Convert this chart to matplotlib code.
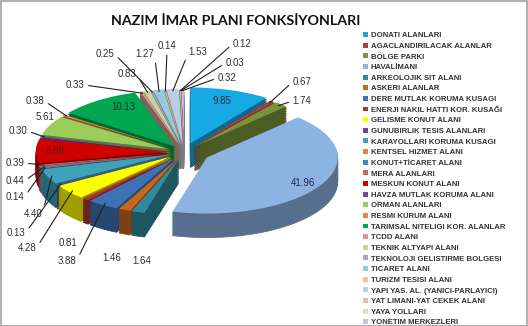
import numpy as np
import matplotlib
matplotlib.use('Agg')
import matplotlib.pyplot as plt
from matplotlib.colors import to_rgb
from matplotlib.patches import Rectangle

# Nazim imar plani fonksiyon alanlari (%)
kategoriler = [
    'DONATI ALANLARI', 'AGACLANDIRILACAK ALANLAR', 'BÖLGE PARKI', 'HAVALİMANI',
    'ARKEOLOJIK SIT ALANI', 'ASKERI ALANLAR', 'DERE MUTLAK KORUMA KUSAGI',
    'ENERJI NAKIL HATTI KOR. KUSAĞI', 'GELISME KONUT ALANI', 'GUNUBIRLIK TESIS ALANLARI',
    'KARAYOLLARI KORUMA KUSAGI', 'KENTSEL HIZMET ALANI', 'KONUT+TİCARET ALANI',
    'MERA ALANLARI', 'MESKUN KONUT ALANI', 'HAVZA MUTLAK KORUMA ALANI', 'ORMAN ALANLARI',
    'RESMI KURUM ALANI', 'TARIMSAL NITELIGI KOR. ALANLAR', 'TCDD ALANI',
    'TEKNIK ALTYAPI ALANI', 'TEKNOLOJI GELISTIRME BOLGESI', 'TICARET ALANI',
    'TURIZM TESISI ALANI', 'YAPI YAS. AL. (YANICI-PARLAYICI)', 'YAT LIMANI-YAT CEKEK ALANI',
    'YAYA YOLLARI', 'YONETIM MERKEZLERI',
]
oranlar = [9.85, 0.67, 1.74, 41.96, 1.64, 1.46, 3.88, 0.81, 4.28, 0.13, 4.40, 0.14,
           0.44, 0.39, 6.98, 0.30, 5.61, 0.38, 10.13, 0.33, 0.83, 0.25, 1.27, 0.14,
           1.53, 0.12, 0.03, 0.32]
renkler = ['#16a9e3', '#b23a3a', '#7a943c', '#8db3e2', '#2f8a9c', '#c8681c', '#3f72b4',
           '#b03434', '#ffff00', '#6a4c94', '#3ea2bd', '#e8853a', '#4f81bd', '#c86464',
           '#d00000', '#6a4c9c', '#9acd5a', '#e8863c', '#00a650', '#d99694', '#c3d69b',
           '#b3a2c7', '#93cddd', '#fac090', '#b9cde5', '#e6b9b8', '#d7e4bd', '#ccc1da']

# etiket konumlari (piksel, sol-ust koseden)
etiket_yer = {
    0: (222, 101), 1: (302, 82), 2: (302, 101), 3: (303, 183), 4: (142, 261),
    5: (112, 258), 6: (67, 261), 7: (68, 243), 8: (27, 248), 9: (16, 233),
    10: (33, 214), 11: (15, 197), 12: (15, 181), 13: (15, 163), 14: (55, 151),
    15: (18, 131), 16: (45, 117), 17: (35, 101), 18: (123, 107), 19: (75, 85),
    20: (127, 74), 21: (105, 54), 22: (145, 54), 23: (167, 46), 24: (198, 52),
    25: (242, 44), 26: (235, 63), 27: (227, 78),
}
ic_etiket = {0, 3, 14, 18}
cizgisiz = {4, 5, 7, 16}

W, H = 528, 326
CX, CY, RX, RY = 184, 152, 131, 56
DERINLIK = 24 / RY
KATMAN = 14

patlat = [0.13] * len(oranlar)
patlat[0] = 0.16
patlat[3] = 0.20

fig = plt.figure(figsize=(W / 100, H / 100), dpi=100)
ax = fig.add_axes([0, 0, 1, 1])

koyu = [tuple(c * 0.62 for c in to_rgb(r)) for r in renkler]

# dilimlerin orta acilari (arkadan one siralamak icin)
kum = np.cumsum([0] + oranlar) / sum(oranlar)
orta = np.deg2rad(90 - 360 * (kum[:-1] + kum[1:]) / 2)
sira = np.argsort(-np.sin(orta))
rank = np.empty(len(oranlar))
rank[sira] = np.arange(len(oranlar))

# yan yuzler: asagidan yukari katmanlar
for k in range(KATMAN):
    dy = -DERINLIK * (1 - k / KATMAN)
    wl, _ = ax.pie(oranlar, explode=patlat, startangle=90, counterclock=False,
                   colors=koyu, center=(0, dy),
                   wedgeprops=dict(linewidth=0.6))
    for j, w in enumerate(wl):
        w.set_edgecolor(koyu[j])
        w.set_zorder(2 + rank[j] + k / (KATMAN + 1))

ust, _ = ax.pie(oranlar, explode=patlat, startangle=90, counterclock=False,
                colors=renkler, center=(0, 0), wedgeprops=dict(linewidth=0))
for j, w in enumerate(ust):
    w.set_zorder(2 + rank[j] + KATMAN / (KATMAN + 1))

ax.set_aspect('auto')
ax.set_xlim(-CX / RX, (W - CX) / RX)
ax.set_ylim(-(H - CY) / RY, CY / RY)
ax.axis('off')

# veri etiketleri
for j, v in enumerate(oranlar):
    px, py = etiket_yer[j]
    metin = f'{v:.2f}'
    renk = '#1f2d4d' if j == 3 else ('#5a1a1a' if j == 14 else '#303030')
    if j in ic_etiket or j in cizgisiz:
        ax.annotate(metin, xy=(px, H - py), xycoords='figure pixels',
                    ha='center', va='center', fontsize=7, color=renk, zorder=100,
                    family='Liberation Sans')
        continue
    a = orta[j]
    e = patlat[j]
    hx = (1 + e) * np.cos(a) * 0.97
    hy = (1 + e) * np.sin(a) * 0.97
    sag = px < CX + 20 and j not in (23, 24)
    relpos = (1, 0.5) if sag else (0, 0.5)
    if j == 23:
        relpos = (0.5, 0)
    ax.annotate(metin, xy=(hx, hy), xytext=(px, H - py), textcoords='figure pixels',
                ha='center', va='center', fontsize=7, color=renk, zorder=100,
                family='Liberation Sans',
                arrowprops=dict(arrowstyle='-', color='#202020', lw=0.8,
                                relpos=relpos, shrinkA=1, shrinkB=0))

fig.text(236 / W, 1 - 21 / H, 'NAZIM İMAR PLANI FONKSİYONLARI', ha='center', va='center',
         fontsize=10.3, fontweight='bold', family='Lato', color='#111111')

leg = fig.legend(ust, kategoriler, loc='upper left',
                 bbox_to_anchor=(360 / W, 1 - 29 / H), frameon=False,
                 handlelength=0.6, handleheight=0.6,
                 handletextpad=0.4, labelspacing=0.44, borderaxespad=0,
                 prop={'family': ['Liberation Sans Narrow', 'Liberation Sans'],
                       'size': 5.6, 'weight': 'bold'})
for t in leg.get_texts():
    t.set_color('#333333')

fig.patches.append(Rectangle((0.5, 0.5), W - 1.5, H - 1.5, transform=None,
                             fill=False, edgecolor='#b0b0b0', lw=1.5))

fig.savefig('out.png', dpi=100)
